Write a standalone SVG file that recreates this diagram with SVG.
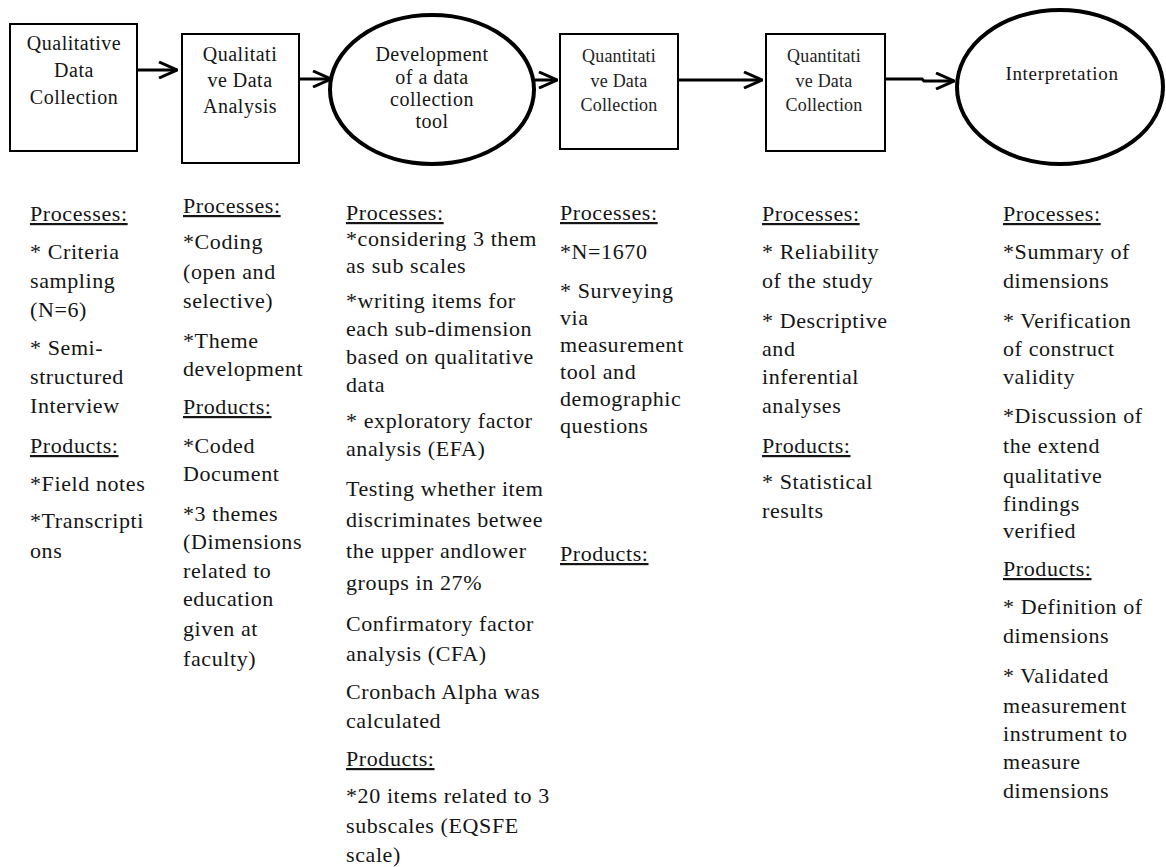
<svg xmlns="http://www.w3.org/2000/svg" width="1166" height="867" viewBox="0 0 1166 867">
  <defs>
    <style>
      .box{fill:#fff;stroke:#000;stroke-width:2}
      .oval{fill:#fff;stroke:#000;stroke-width:4}
      .conn{fill:none;stroke:#000;stroke-width:3}
      .nt{font-family:"Liberation Serif","Times New Roman",serif;font-size:20px;letter-spacing:0.5px;text-anchor:middle;fill:#151515}
      .nq{font-size:18px;letter-spacing:0.2px;fill:#222}
      .ni{font-size:19px;letter-spacing:0.7px}
      .bt{font-family:"Liberation Serif","Times New Roman",serif;font-size:22px;letter-spacing:0.6px;fill:#151515}
      .hd{text-decoration:underline}
    </style>
    <marker id="arr" viewBox="0 0 20 18" refX="19" refY="9" markerWidth="20" markerHeight="18" markerUnits="userSpaceOnUse" orient="auto">
      <path d="M1,1 L19,9 L1,17" fill="none" stroke="#000" stroke-width="3"/>
    </marker>
  </defs>
  <rect width="1166" height="867" fill="#fff"/>

  <g id="connectors">
    <path class="conn" d="M137,70 H177" marker-end="url(#arr)"/>
    <path class="conn" d="M299,79 H331" marker-end="url(#arr)"/>
    <path class="conn" d="M534,80 H557" marker-end="url(#arr)"/>
    <path class="conn" d="M678,80 H762" marker-end="url(#arr)"/>
    <path class="conn" d="M885,79 H922 L924,81 H954" marker-end="url(#arr)"/>
  </g>

  <g id="node-qual-collection">
    <rect class="box" x="10" y="24" width="127" height="127"/>
    <text class="nt"><tspan x="74" y="50">Qualitative</tspan><tspan x="74" y="77">Data</tspan><tspan x="74" y="104">Collection</tspan></text>
  </g>
  <g id="node-qual-analysis">
    <rect class="box" x="182" y="34" width="117" height="129"/>
    <text class="nt"><tspan x="240" y="61">Qualitati</tspan><tspan x="240" y="87">ve Data</tspan><tspan x="240" y="113">Analysis</tspan></text>
  </g>
  <g id="node-tool-development">
    <ellipse class="oval" cx="432" cy="89.5" rx="102" ry="74.5"/>
    <text class="nt"><tspan x="432" y="61">Development</tspan><tspan x="432" y="84">of a data</tspan><tspan x="432" y="106">collection</tspan><tspan x="432" y="128">tool</tspan></text>
  </g>
  <g id="node-quant-collection-1">
    <rect class="box" x="560" y="34" width="118" height="115"/>
    <text class="nt nq"><tspan x="619" y="62">Quantitati</tspan><tspan x="619" y="87">ve Data</tspan><tspan x="619" y="111">Collection</tspan></text>
  </g>
  <g id="node-quant-collection-2">
    <rect class="box" x="766" y="34" width="119" height="117"/>
    <text class="nt nq"><tspan x="824" y="62">Quantitati</tspan><tspan x="824" y="87">ve Data</tspan><tspan x="824" y="111">Collection</tspan></text>
  </g>
  <g id="node-interpretation">
    <ellipse class="oval" cx="1060" cy="87" rx="103" ry="77"/>
    <text class="nt ni" x="1062" y="80">Interpretation</text>
  </g>

  <g id="col-1">
    <text class="bt hd" x="30" y="221">Processes:</text>
    <text class="bt"><tspan x="30" y="259">* Criteria</tspan><tspan x="30" y="288">sampling</tspan><tspan x="30" y="317">(N=6)</tspan></text>
    <text class="bt"><tspan x="30" y="355">* Semi-</tspan><tspan x="30" y="384">structured</tspan><tspan x="30" y="413">Interview</tspan></text>
    <text class="bt hd" x="30" y="453">Products:</text>
    <text class="bt" x="30" y="491">*Field notes</text>
    <text class="bt"><tspan x="30" y="528">*Transcripti</tspan><tspan x="30" y="558">ons</tspan></text>
  </g>

  <g id="col-2">
    <text class="bt hd" x="183" y="213">Processes:</text>
    <text class="bt"><tspan x="183" y="249">*Coding</tspan><tspan x="183" y="279">(open and</tspan><tspan x="183" y="308">selective)</tspan></text>
    <text class="bt"><tspan x="183" y="348">*Theme</tspan><tspan x="183" y="376">development</tspan></text>
    <text class="bt hd" x="183" y="414">Products:</text>
    <text class="bt"><tspan x="183" y="453">*Coded</tspan><tspan x="183" y="481">Document</tspan></text>
    <text class="bt"><tspan x="183" y="521">*3 themes</tspan><tspan x="183" y="549">(Dimensions</tspan><tspan x="183" y="578">related to</tspan><tspan x="183" y="606">education</tspan><tspan x="183" y="636">given at</tspan><tspan x="183" y="666">faculty)</tspan></text>
  </g>

  <g id="col-3">
    <text class="bt hd" x="346" y="220">Processes:</text>
    <text class="bt"><tspan x="346" y="246">*considering 3 them</tspan><tspan x="346" y="273">as sub scales</tspan></text>
    <text class="bt"><tspan x="346" y="308">*writing items for</tspan><tspan x="346" y="336">each sub-dimension</tspan><tspan x="346" y="364">based on qualitative</tspan><tspan x="346" y="392">data</tspan></text>
    <text class="bt"><tspan x="346" y="428">* exploratory factor</tspan><tspan x="346" y="456">analysis (EFA)</tspan></text>
    <text class="bt"><tspan x="346" y="496">Testing whether item</tspan><tspan x="346" y="527">discriminates betwee</tspan><tspan x="346" y="558">the upper andlower</tspan><tspan x="346" y="590">groups in  27%</tspan></text>
    <text class="bt"><tspan x="346" y="631">Confirmatory factor</tspan><tspan x="346" y="661">analysis (CFA)</tspan></text>
    <text class="bt"><tspan x="346" y="699">Cronbach Alpha was</tspan><tspan x="346" y="728">calculated</tspan></text>
    <text class="bt hd" x="346" y="766">Products:</text>
    <text class="bt"><tspan x="346" y="803">*20 items related to 3</tspan><tspan x="346" y="833">subscales (EQSFE</tspan><tspan x="346" y="862">scale)</tspan></text>
  </g>

  <g id="col-4">
    <text class="bt hd" x="560" y="220">Processes:</text>
    <text class="bt" x="560" y="259">*N=1670</text>
    <text class="bt"><tspan x="560" y="298">* Surveying</tspan><tspan x="560" y="325">via</tspan><tspan x="560" y="352">measurement</tspan><tspan x="560" y="379">tool and</tspan><tspan x="560" y="406">demographic</tspan><tspan x="560" y="433">questions</tspan></text>
    <text class="bt hd" x="560" y="561">Products:</text>
  </g>

  <g id="col-5">
    <text class="bt hd" x="762" y="221">Processes:</text>
    <text class="bt"><tspan x="762" y="259">* Reliability</tspan><tspan x="762" y="288">of the study</tspan></text>
    <text class="bt"><tspan x="762" y="328">* Descriptive</tspan><tspan x="762" y="356">and</tspan><tspan x="762" y="384">inferential</tspan><tspan x="762" y="413">analyses</tspan></text>
    <text class="bt hd" x="762" y="453">Products:</text>
    <text class="bt"><tspan x="762" y="489">* Statistical</tspan><tspan x="762" y="518">results</tspan></text>
  </g>

  <g id="col-6">
    <text class="bt hd" x="1003" y="221">Processes:</text>
    <text class="bt"><tspan x="1003" y="259">*Summary of</tspan><tspan x="1003" y="288">dimensions</tspan></text>
    <text class="bt"><tspan x="1003" y="328">* Verification</tspan><tspan x="1003" y="356">of construct</tspan><tspan x="1003" y="384">validity</tspan></text>
    <text class="bt"><tspan x="1003" y="423">*Discussion of</tspan><tspan x="1003" y="453">the  extend</tspan><tspan x="1003" y="483">qualitative</tspan><tspan x="1003" y="511">findings</tspan><tspan x="1003" y="538">verified</tspan></text>
    <text class="bt hd" x="1003" y="576">Products:</text>
    <text class="bt"><tspan x="1003" y="614">* Definition of</tspan><tspan x="1003" y="643">dimensions</tspan></text>
    <text class="bt"><tspan x="1003" y="683">* Validated</tspan><tspan x="1003" y="713">measurement</tspan><tspan x="1003" y="741">instrument to</tspan><tspan x="1003" y="769">measure</tspan><tspan x="1003" y="798">dimensions</tspan></text>
  </g>
</svg>
